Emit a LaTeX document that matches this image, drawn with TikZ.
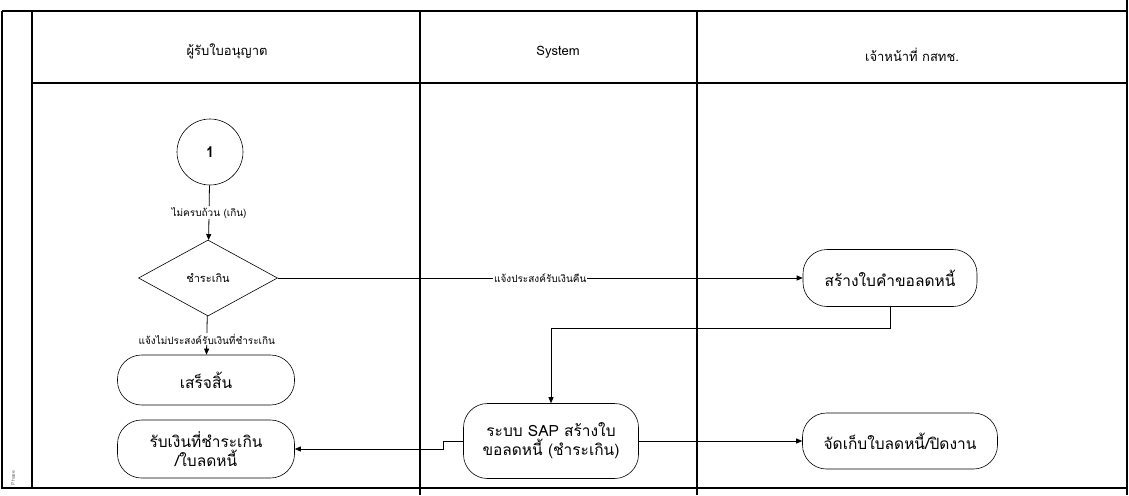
\documentclass[tikz,border=0pt]{standalone}
\usepackage{fontspec}
\setmainfont{Loma}[Script=Thai]
\usetikzlibrary{shapes.geometric,arrows.meta}
\begin{document}
\begin{tikzpicture}[x=1pt,y=-1pt,
 frame/.style={line width=1.1pt},
 pill/.style={draw, line width=0.6pt, rounded corners=24pt, minimum width=177pt, minimum height=50pt, align=center, font=\fontsize{15.5}{19}\selectfont, inner sep=2pt},
 lbl/.style={fill=white, font=\fontsize{10}{11}\selectfont, inner sep=1pt},
 hdr/.style={font=\fontsize{13}{15}\selectfont},
 flow/.style={-{Triangle[length=6pt,width=5pt]}, line width=0.8pt}
]
\useasboundingbox (0,0) rectangle (1129,495);
% frame and lanes
\draw[frame] (2,11) -- (1127,11);
\draw[frame] (2,11) -- (2,488) -- (1127,488);
\draw[frame] (1127,0) -- (1127,495);
\draw[frame] (32,11) -- (32,488);
\draw[frame] (420,11) -- (420,495);
\draw[frame] (697,11) -- (697,495);
\draw[frame] (32,83) -- (1127,83);
% headers
\node[hdr] (h1) at (227,51) {ผู้รับใบอนุญาต};
\node[hdr] (h2) at (558,52) {System};
\node[hdr] (h3) at (912,55) {เจ้าหน้าที่ กสทช.};
\node[rotate=90, font=\fontsize{5}{6}\selectfont, text=black!60] (ph) at (13,478) {Phase};
% nodes
\node[circle, draw, line width=0.6pt, minimum size=66pt, inner sep=0pt, font=\bfseries\fontsize{15}{17}\selectfont] (c1) at (210,152) {1};
\node[diamond, draw, line width=0.6pt, minimum width=139pt, minimum height=76pt, inner sep=0pt, aspect=1.83, font=\fontsize{11}{12}\selectfont] (d) at (208,278) {ชำระเกิน};
\node[pill] (done) at (206,380) {เสร็จสิ้น};
\node[pill, minimum height=58pt] (rcv) at (206,449) {รับเงินที่ชำระเกิน\\/ใบลดหนี้};
\node[pill, minimum width=174pt, minimum height=57pt] (req) at (890,278) {สร้างใบคำขอลดหนี้};
\node[pill, minimum width=175pt, minimum height=75pt] (sap) at (551,441) {ระบบ SAP สร้างใบ\\ขอลดหนี้ (ชำระเกิน)};
\node[pill, minimum width=195pt, minimum height=56pt] (store) at (900,441) {จัดเก็บใบลดหนี้/ปิดงาน};
% connectors
\draw[flow] (c1) -- node[lbl, pos=0.5] {ไม่ครบถ้วน (เกิน)} (d);
\draw[flow] (d) -- node[lbl, pos=0.6] {แจ้งไม่ประสงค์รับเงินที่ชำระเกิน} (done);
\draw[flow] (d.east) -- node[lbl, pos=0.5] {แจ้งประสงค์รับเงินคืน} (req.west);
\draw[flow] (req.south) -- ++(0,22) -| (sap.north);
\draw[flow] (sap.west) -- ++(-20,0) |- (rcv.east);
\draw[flow] (sap.east) -- (store.west);
\end{tikzpicture}
\end{document}
